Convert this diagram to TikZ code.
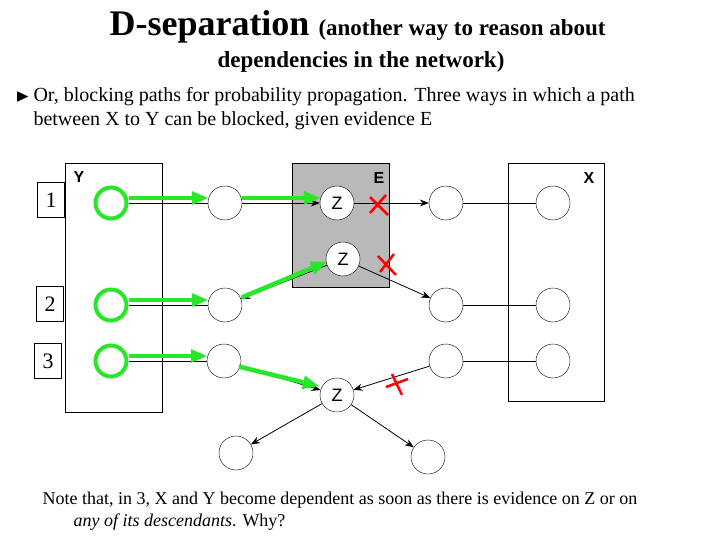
\documentclass[tikz,border=0pt]{standalone}
\usepackage{fontspec}
\setmainfont{Liberation Serif}
\newfontfamily\lsans{Liberation Sans}
\usepackage{amssymb}
\usetikzlibrary{arrows.meta}
\definecolor{grn}{RGB}{40,230,40}
\begin{document}
\begin{tikzpicture}[x=1pt,y=-1pt,
 nd/.style={circle,draw,thin,fill=white,minimum size=34pt,inner sep=0pt,font=\lsans\fontsize{18}{18}\selectfont},
 gn/.style={circle,draw=grn,line width=4pt,minimum size=31pt,inner sep=0pt},
 box/.style={draw,thin},
 num/.style={draw,thin,minimum width=27pt,minimum height=35pt,inner sep=0pt,font=\fontsize{22}{22}\selectfont},
 lab/.style={font=\lsans\bfseries\fontsize{16}{16}\selectfont},
 ar/.style={-{Stealth[length=9pt,width=7pt]},thick},
 gar/.style={-{Triangle[length=16pt,width=14pt,line width=0pt]},draw=grn,fill=grn,line width=4.5pt},
 cross/.style={draw=red,line width=2.5pt}]
\useasboundingbox (0,0) rectangle (720,540);
\fill[gray!55] (292,163) rectangle (389,287);
\draw[box] (292,163) rectangle (389,287);
\draw[box] (65,163) rectangle (162,412);
\draw[box] (508,163) rectangle (604,401);
\node[lab] at (79,177) {Y};
\node[lab] at (379,178) {E};
\node[lab] at (589,178) {X};
\node[num] (n1) at (51,200) {1};
\node[num] (n2) at (50,304) {2};
\node[num] (n3) at (48,361) {3};
\node[gn] (y1) at (111,203) {};
\node[gn] (y2) at (111,305) {};
\node[gn] (y3) at (111,361) {};
\node[nd] (m1) at (225,203) {};
\node[nd] (m2) at (225,305) {};
\node[nd] (m3) at (224,361) {};
\node[nd] (z1) at (337,203) {Z};
\node[nd] (z2) at (343,259) {Z};
\node[nd] (z3) at (337,395) {Z};
\node[nd] (r1) at (446,203) {};
\node[nd] (r2) at (446,305) {};
\node[nd] (r3) at (446,361) {};
\node[nd] (x1) at (553,203) {};
\node[nd] (x2) at (553,305) {};
\node[nd] (x3) at (553,361) {};
\node[nd] (b1) at (236,453) {};
\node[nd] (b2) at (428,457) {};
% black arrows
\draw[thin] (y1) -- (m1);
\draw[thin] (y2) -- (m2);
\draw[thin] (y3) -- (m3);
\draw[ar] (m1) -- (z1);
\draw[ar] (z1) -- (r1);
\draw[ar] (z2) -- (m2);
\draw[ar] (z2) -- (r2);
\draw[ar] (m3) -- (z3);
\draw[ar] (r3) -- (z3);
\draw[ar] (z3) -- (b1);
\draw[ar] (z3) -- (b2);
\draw[thin] (r1) -- (x1);
\draw[thin] (r2) -- (x2);
\draw[thin] (r3) -- (x3);
% green arrows
\draw[gar] ([yshift=5pt]y1.east) -- ([yshift=5pt]m1.west);
\draw[gar] ([yshift=5pt]m1.east) -- ([yshift=5pt]z1.west);
\draw[gar] ([yshift=5pt]y2.east) -- ([yshift=5pt]m2.west);
\draw[gar] ([yshift=5pt]y3.east) -- ([yshift=5pt]m3.west);
\draw[gar] ([yshift=3pt]m2.15) -- ([yshift=3pt]z2.200);
\draw[gar] ([yshift=3pt]m3.-30) -- ([xshift=-2pt,yshift=3pt]z3.160);
% crosses
\draw[cross] (370,197) -- (388,215) (370,213) -- (386,195);
\draw[cross] (378,256) -- (396,275) (380,272) -- (394,254);
\draw[cross] (392,374) -- (402,395) (386,387) -- (408,379);
% text
\node[anchor=base west,font=\bfseries\fontsize{36}{36}\selectfont] at (106,36) {D-separation {\fontsize{23}{23}\selectfont (another way to reason about}};
\node[anchor=base,font=\bfseries\fontsize{23}{23}\selectfont] at (361,68) {dependencies in the network)};
\node[anchor=base west,font=\fontsize{18}{18}\selectfont] at (12,102) {$\blacktriangleright$};
\node[anchor=base west,font=\fontsize{20}{20}\selectfont] at (30,102) {Or, blocking paths for probability propagation. Three ways in which a path};
\node[anchor=base west,font=\fontsize{20}{20}\selectfont] at (30,126) {between X to Y can be blocked, given evidence E};
\node[anchor=base west,font=\fontsize{18}{18}\selectfont] at (39,504) {Note that, in 3, X and Y become dependent as soon as there is evidence on Z or on};
\node[anchor=base west,font=\fontsize{18}{18}\selectfont] at (70,526) {\itshape any of its descendants\upshape. Why?};
\end{tikzpicture}
\end{document}
